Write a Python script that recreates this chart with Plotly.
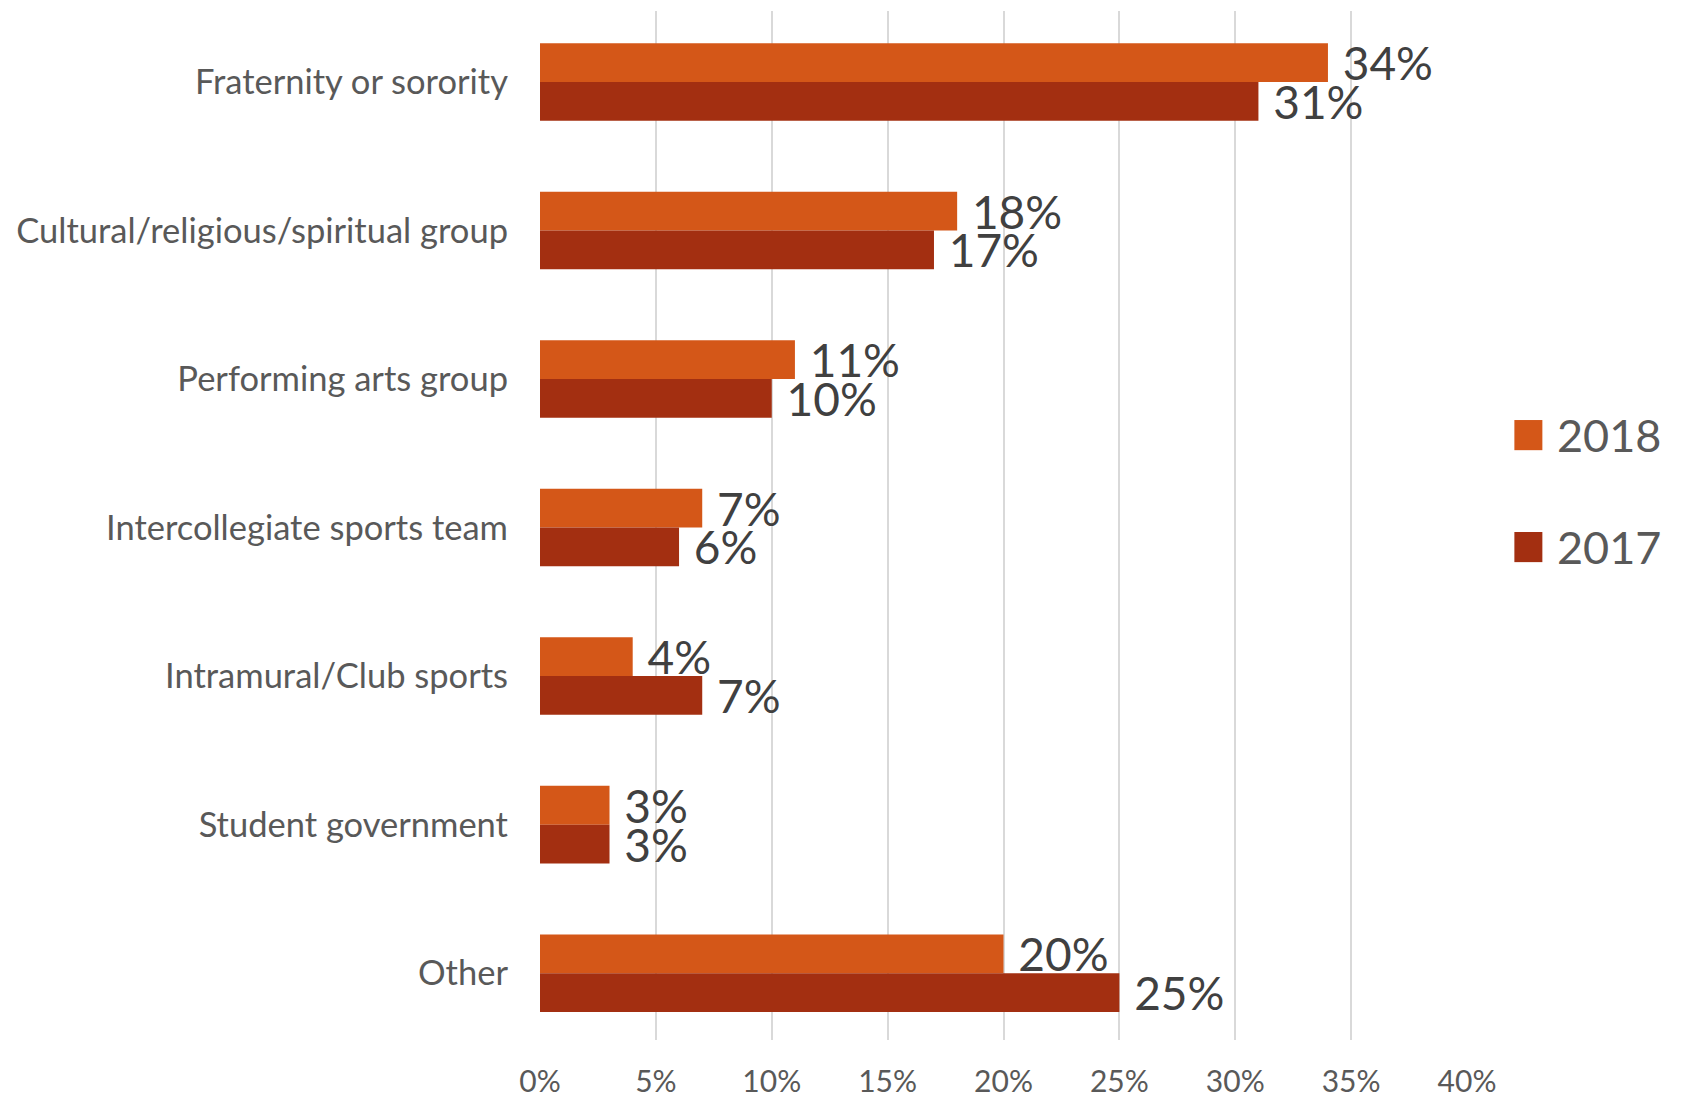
import plotly.graph_objects as go

categories = [
    "Fraternity or sorority",
    "Cultural/religious/spiritual group",
    "Performing arts group",
    "Intercollegiate sports team",
    "Intramural/Club sports",
    "Student government",
    "Other",
]
series_names = ["2018", "2017"]
values_2018 = [0.34, 0.18, 0.11, 0.07, 0.04, 0.03, 0.20]
values_2017 = [0.31, 0.17, 0.10, 0.06, 0.07, 0.03, 0.25]
series_values = [values_2018, values_2017]
series_colors = ["#D45718", "#A32F11"]
x_ticks = [0, 0.05, 0.10, 0.15, 0.20, 0.25, 0.30, 0.35, 0.40]

FONT = "Lato, 'Open Sans', sans-serif"

fig = go.Figure()
for name, vals, color in zip(series_names, series_values, series_colors):
    fig.add_trace(go.Bar(
        y=categories, x=vals, name=name, orientation="h",
        marker=dict(color=color, line=dict(width=0)),
        texttemplate="\u00a0%{x:.0%}", textposition="outside",
        textfont=dict(family=FONT, size=46, color="#404040"),
        constraintext="none", cliponaxis=False, showlegend=False,
    ))

# manual legend (large square swatches)
legend_rows = [(0.6025, 0.5732), (0.4937, 0.4644)]
for (y1, y0), name, color in zip(legend_rows, series_names, series_colors):
    fig.add_shape(type="rect", xref="paper", yref="paper",
                  x0=1.0511, x1=1.0813, y0=y0, y1=y1,
                  fillcolor=color, line=dict(width=0))
    fig.add_annotation(xref="paper", yref="paper", x=1.095, y=(y0 + y1) / 2,
                       text=name, showarrow=False, xanchor="left", yanchor="middle",
                       font=dict(family=FONT, size=45, color="#595959"))

fig.update_layout(
    width=1685, height=1097,
    margin=dict(l=532, r=226, t=3, b=65),
    barmode="group", bargap=0.478, bargroupgap=0,
    plot_bgcolor="white", paper_bgcolor="white",
    font=dict(family=FONT, color="#595959"),
    showlegend=False,
)
fig.update_xaxes(
    range=[0, 0.40], tickvals=x_ticks, tickformat=".0%",
    showgrid=True, gridcolor="#D9D9D9", gridwidth=1.5,
    zeroline=False, showline=False, ticks="",
    tickfont=dict(family=FONT, size=30, color="#595959"),
    ticklabelstandoff=21,
)
fig.update_yaxes(
    autorange=False, range=[6.45, -0.478],
    showgrid=False, zeroline=False, showline=False,
    ticks="", tickfont=dict(family=FONT, size=34.5, color="#595959"),
    ticklabelstandoff=31,
)

fig.write_html("out.html")
